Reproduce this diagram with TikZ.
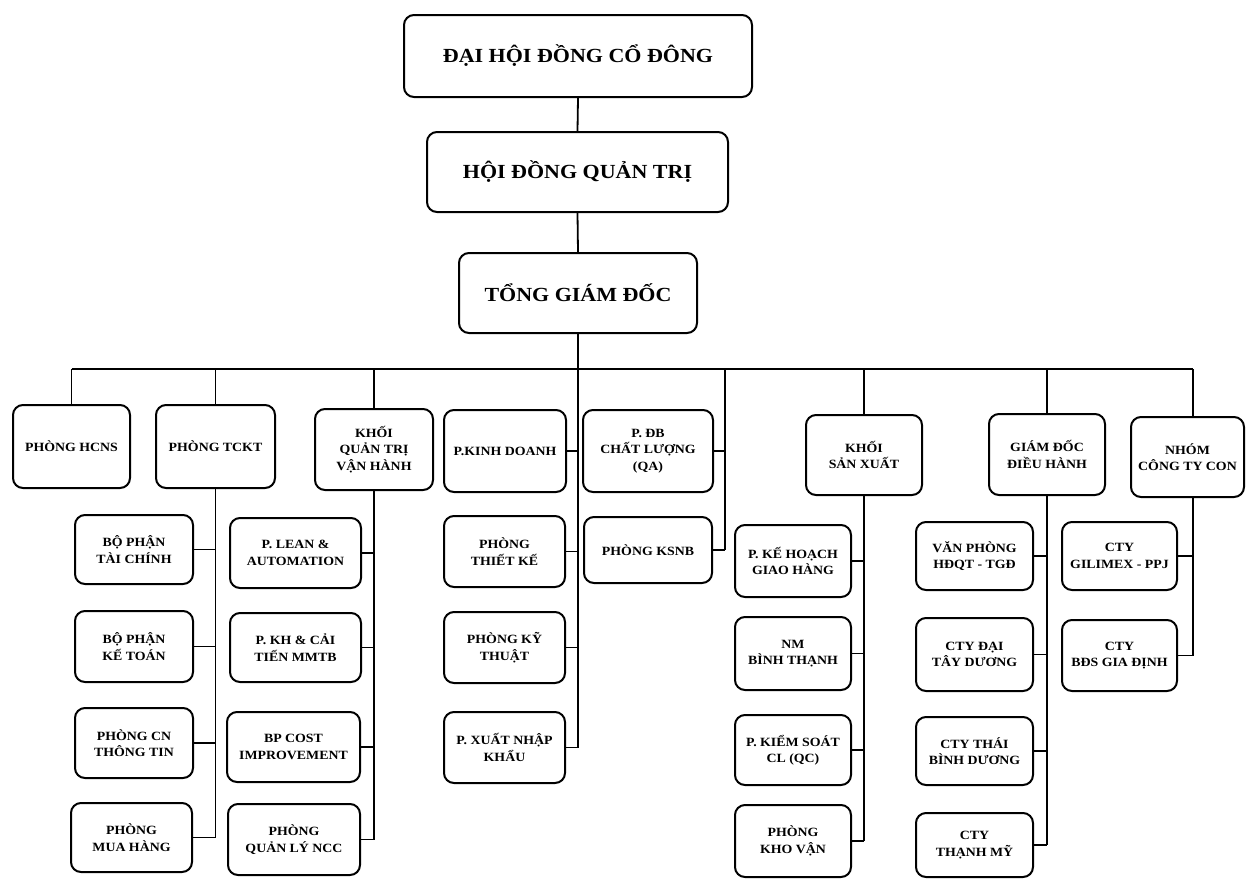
\documentclass[tikz,border=0pt]{standalone}
\usepackage{fontspec}
\setmainfont{Liberation Serif}[FakeStretch=1.1]
\newcommand\bx[7][]{\node[box,#1,minimum width={#5pt-#3pt},minimum height={#6pt-#4pt}] (#2) at ({(#3+#5)/2},{(#4+#6)/2}) {#7};}
\begin{document}
\begin{tikzpicture}[x=1pt,y=-1pt,
  box/.style={draw,line width=2pt,rounded corners=10pt,align=center,inner sep=1pt,
    font=\bfseries\fontsize{12.6}{16.5}\selectfont},
  big/.style={font=\bfseries\fontsize{20}{24}\selectfont},
  conn/.style={line width=1.8pt}]
\useasboundingbox (0,0) rectangle (1259,879);
% top
\bx[big]{dh}{404}{15}{752}{97}{ĐẠI HỘI ĐỒNG CỔ ĐÔNG}
\bx[big]{hd}{427}{132}{728}{212}{HỘI ĐỒNG QUẢN TRỊ}
\bx[big]{tgd}{459}{253}{697}{333}{TỔNG GIÁM ĐỐC}
% row 1
\bx{hcns}{13}{405}{130}{488}{PHÒNG HCNS}
\bx{tckt}{156}{405}{275}{488}{PHÒNG TCKT}
\bx{qtvh}{315}{409}{433}{490}{KHỐI\\QUẢN TRỊ\\VẬN HÀNH}
\bx{kd}{444}{410}{566}{492}{P.KINH DOANH}
\bx{qa}{583}{410}{713}{492}{P. ĐB\\CHẤT LƯỢNG\\(QA)}
\bx{sx}{806}{415}{922}{495}{KHỐI\\SẢN XUẤT}
\bx{gddh}{989}{414}{1105}{495}{GIÁM ĐỐC\\ĐIỀU HÀNH}
\bx{nhom}{1131}{417}{1244}{497}{NHÓM\\CÔNG TY CON}
% TCKT children
\bx{tc}{75}{515}{193}{584}{BỘ PHẬN\\TÀI CHÍNH}
\bx{kt}{75}{611}{193}{682}{BỘ PHẬN\\KẾ TOÁN}
\bx{cntt}{75}{708}{193}{778}{PHÒNG CN\\THÔNG TIN}
\bx{mh}{71}{803}{192}{872}{PHÒNG\\MUA HÀNG}
% QTVH children
\bx{lean}{230}{518}{361}{588}{P. LEAN \&\\AUTOMATION}
\bx{mmtb}{230}{613}{361}{682}{P. KH \& CẢI\\TIẾN MMTB}
\bx{cost}{227}{712}{360}{782}{BP COST\\IMPROVEMENT}
\bx{ncc}{228}{804}{360}{875}{PHÒNG\\QUẢN LÝ NCC}
% KD children
\bx{tk}{444}{516}{565}{587}{PHÒNG\\THIẾT KẾ}
\bx{ktt}{444}{612}{565}{683}{PHÒNG KỸ\\THUẬT}
\bx{xnk}{444}{712}{565}{783}{P. XUẤT NHẬP\\KHẨU}
% QA children
\bx{ksnb}{584}{517}{712}{583}{PHÒNG KSNB}
% SX children
\bx{khgh}{735}{525}{851}{597}{P. KẾ HOẠCH\\GIAO HÀNG}
\bx{nmbt}{735}{617}{851}{690}{NM\\BÌNH THẠNH}
\bx{qc}{735}{715}{851}{785}{P. KIỂM SOÁT\\CL (QC)}
\bx{kv}{735}{805}{851}{877}{PHÒNG\\KHO VẬN}
% GDDH children
\bx{vp}{916}{522}{1033}{590}{VĂN PHÒNG\\HĐQT - TGĐ}
\bx{dtd}{916}{618}{1033}{691}{CTY ĐẠI\\TÂY DƯƠNG}
\bx{tbd}{916}{717}{1033}{785}{CTY THÁI\\BÌNH DƯƠNG}
\bx{tm}{916}{813}{1033}{877}{CTY\\THẠNH MỸ}
% NHOM children
\bx{gil}{1062}{522}{1177}{590}{CTY\\GILIMEX - PPJ}
\bx{bds}{1062}{620}{1177}{691}{CTY\\BĐS GIA ĐỊNH}
% coordinates
\coordinate (bar) at (0,369);
\coordinate (qaj) at (725,369);
\coordinate (nx) at (1193,369);
% connectors
\draw[conn] (dh.south) -- (hd.north);
\draw[conn] (hd.south) -- (tgd.north);
\draw[conn] (tgd.south) -- (tgd.south |- xnk.east);
\draw[conn] (hcns.north |- bar) -- (nx);
\draw[conn] (hcns.north) -- (hcns.north |- bar);
\draw[conn] (tckt.north) -- (tckt.north |- bar);
\draw[conn] (qtvh.north) -- (qtvh.north |- bar);
\draw[conn] (sx.north) -- (sx.north |- bar);
\draw[conn] (gddh.north) -- (gddh.north |- bar);
\draw[conn] (nx) -- (nx |- nhom.north);
% TCKT
\draw[conn] (tckt.south) -- (tckt.south |- mh.east);
\foreach \c in {tc,kt,cntt,mh} \draw[conn] (\c.east) -- (\c.east -| tckt.south);
% QTVH
\draw[conn] (qtvh.south) -- (qtvh.south |- ncc.east);
\foreach \c in {lean,mmtb,cost,ncc} \draw[conn] (\c.east) -- (\c.east -| qtvh.south);
% KD
\foreach \c in {kd,tk,ktt,xnk} \draw[conn] (\c.east) -- (\c.east -| tgd.south);
% QA
\draw[conn] (qaj) -- (qaj |- ksnb.east);
\foreach \c in {qa,ksnb} \draw[conn] (\c.east) -- (\c.east -| qaj);
% SX
\draw[conn] (sx.south) -- (sx.south |- kv.east);
\foreach \c in {khgh,nmbt,qc,kv} \draw[conn] (\c.east) -- (\c.east -| sx.south);
% GDDH
\draw[conn] (gddh.south) -- (gddh.south |- tm.east);
\foreach \c in {vp,dtd,tbd,tm} \draw[conn] (\c.east) -- (\c.east -| gddh.south);
% NHOM
\draw[conn] (nx |- nhom.south) -- (nx |- bds.east);
\foreach \c in {gil,bds} \draw[conn] (\c.east) -- (\c.east -| nx);
\end{tikzpicture}
\end{document}
